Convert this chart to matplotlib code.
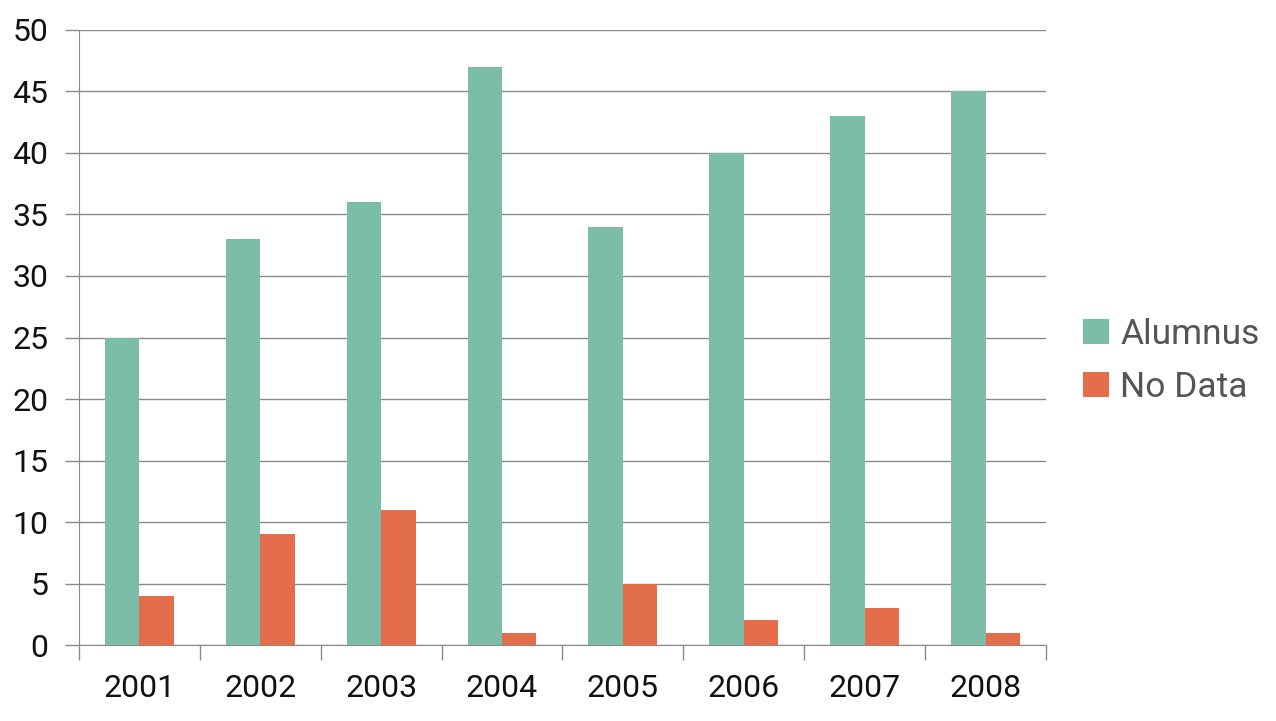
import numpy as np
import matplotlib
matplotlib.use("Agg")
import matplotlib.pyplot as plt
from matplotlib.ticker import FixedLocator

plt.rcParams['font.family'] = ['Roboto', 'DejaVu Sans']
plt.rcParams['font.weight'] = 'normal'

years = ['2001', '2002', '2003', '2004', '2005', '2006', '2007', '2008']
alumnus = [25, 33, 36, 47, 34, 40, 43, 45]
no_data = [4, 9, 11, 1, 5, 2, 3, 1]

teal = '#7bbda7'
orange = '#e46e4b'
grid = '#8a8a8a'

fig = plt.figure(figsize=(12.76, 7.21), dpi=100)
ax = fig.add_axes([0.0619, 0.1054, 0.8197 - 0.0619, 0.9584 - 0.1054])

x = np.arange(len(years))
w = 0.285
ax.bar(x - w / 2, alumnus, w, color=teal, label='Alumnus', zorder=3)
ax.bar(x + w / 2, no_data, w, color=orange, label='No Data', zorder=3)

ax.set_xlim(-0.5, len(years) - 0.5)
ax.set_ylim(0, 50)
ax.set_yticks(range(0, 51, 5))
ax.yaxis.grid(True, color=grid, linewidth=1, zorder=0)
ax.set_axisbelow(True)

ax.set_xticks(x)
ax.set_xticklabels(years)
ax.xaxis.set_minor_locator(FixedLocator(np.arange(-0.5, len(years), 1)))
ax.tick_params(axis='x', which='major', length=0, pad=21, labelsize=23,
               labelcolor='#111111')
ax.tick_params(axis='x', which='minor', length=11, width=1, color=grid)
ax.tick_params(axis='y', length=10, width=1, color=grid, pad=12, labelsize=23,
               labelcolor='#111111')

for s in ['top', 'right']:
    ax.spines[s].set_visible(False)
ax.spines['left'].set_color(grid)
ax.spines['bottom'].set_color(grid)

leg = ax.legend(loc='center left', bbox_to_anchor=(1.024, 0.462), frameon=False,
                handlelength=0.72, handleheight=0.72, handletextpad=0.32,
                labelspacing=0.55, fontsize=25.5, borderaxespad=0)
for t in leg.get_texts():
    t.set_color('#555555')

fig.savefig('out.png', dpi=100)
